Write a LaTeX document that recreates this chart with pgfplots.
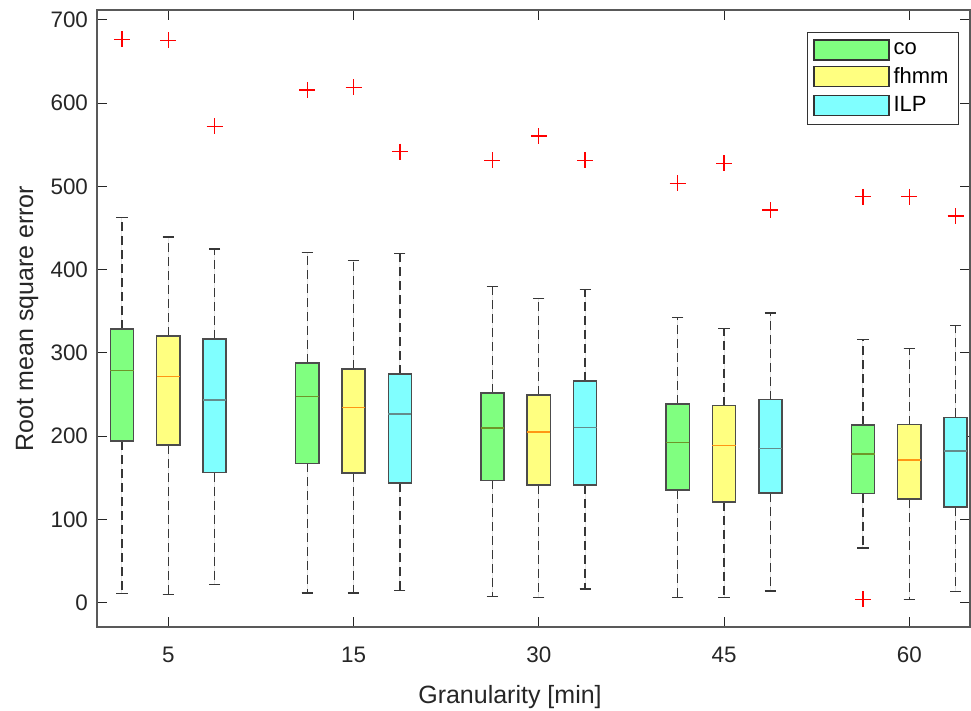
\documentclass[border=0pt]{standalone}
\usepackage{fontspec}
\setmainfont{Liberation Sans}
\usepackage{pgfplots}
\pgfplotsset{compat=1.18}
\usepgfplotslibrary{statistics}
\definecolor{cofill}{RGB}{128,255,128}
\definecolor{fhfill}{RGB}{255,255,128}
\definecolor{ilfill}{RGB}{128,255,255}
\definecolor{comed}{RGB}{110,150,40}
\definecolor{fhmed}{RGB}{255,150,20}
\definecolor{ilmed}{RGB}{100,140,140}
\definecolor{axgray}{RGB}{38,38,38}
\definecolor{wgray}{RGB}{55,55,55}
\pgfplotsset{
  boxplot/draw/lower whisker/.code={%
    \draw[color=wgray, line width=0.65pt, dash pattern=on 4.5pt off 2.5pt]
      (boxplot cs:\pgfplotsboxplotvalue{lower quartile}) -- (boxplot cs:\pgfplotsboxplotvalue{lower whisker});
    \draw[color=wgray, line width=0.65pt, solid]
      (boxplot whisker cs:\pgfplotsboxplotvalue{lower whisker},0) -- (boxplot whisker cs:\pgfplotsboxplotvalue{lower whisker},1);
  },
  boxplot/draw/upper whisker/.code={%
    \draw[color=wgray, line width=0.65pt, dash pattern=on 4.5pt off 2.5pt]
      (boxplot cs:\pgfplotsboxplotvalue{upper quartile}) -- (boxplot cs:\pgfplotsboxplotvalue{upper whisker});
    \draw[color=wgray, line width=0.65pt, solid]
      (boxplot whisker cs:\pgfplotsboxplotvalue{upper whisker},0) -- (boxplot whisker cs:\pgfplotsboxplotvalue{upper whisker},1);
  },
  mybox/.style n args={2}{
    forget plot, solid, line width=0.75pt, draw=black!70, fill=#1, mark=none,
    boxplot/box extend=0.125, boxplot/whisker extend=0.06,
    boxplot/every median/.style={draw=#2, line width=0.75pt},
  },
  co/.style={mybox={cofill}{comed}},
  fh/.style={mybox={fhfill}{fhmed}},
  il/.style={mybox={ilfill}{ilmed}},
  outl/.style={forget plot, only marks, color=red, mark=+, mark size=4pt,
    mark options={color=red, solid, line width=0.65pt}},
}
\begin{document}
\begin{tikzpicture}
\path[use as bounding box] (0,0) rectangle (485.5pt,355.5pt);
\begin{axis}[
  at={(48.5pt,42pt)}, anchor=south west,
  scale only axis, width=436.5pt, height=308.5pt,
  xmin=0.6151, xmax=5.3277, ymin=-29.3, ymax=712,
  xtick={1,2,3,4,5}, xticklabels={5,15,30,45,60},
  ytick={0,100,...,700},
  tick align=inside, tick pos=both, major tick length=5pt,
  tick style={axgray, line width=0.5pt},
  axis line style={black!65, line width=0.6pt},
  ticklabel style={font=\fontsize{11.2}{13}\selectfont, text=axgray},
  yticklabel style={xshift=-1pt},
  xticklabel style={yshift=-6.3pt},
  /pgf/number format/assume math mode=true,
  xlabel={Granularity [min]}, ylabel={Root mean square error},
  label style={font=\fontsize{12.5}{15}\selectfont, text=axgray},
  xlabel style={at={(axis description cs:0.4731,-0.1130)}, anchor=center},
  ylabel style={at={(axis description cs:-0.0800,0.5)}, anchor=center},
  boxplot/draw direction=y,
  legend image code/.code={\draw[#1] (0pt,-5pt) rectangle (37.5pt,5pt);},
  legend style={at={(1,1)}, anchor=north east, xshift=-5.5pt, yshift=-11pt,
    draw=black!80, line width=0.5pt, font=\fontsize{11}{13}\selectfont,
    row sep=1pt, inner sep=3pt, cells={anchor=west}},
]
\addlegendimage{fill=cofill, draw=black!80, line width=0.6pt}
\addlegendentry{co}
\addlegendimage{fill=fhfill, draw=black!80, line width=0.6pt}
\addlegendentry{fhmm}
\addlegendimage{fill=ilfill, draw=black!80, line width=0.6pt}
\addlegendentry{ILP}
% 5 min
\addplot[co, boxplot prepared={draw position=0.75, lower whisker=10.8, lower quartile=193.9, median=278.9, upper quartile=328.9, upper whisker=462.3}] coordinates {};
\addplot[fh, boxplot prepared={draw position=1.00, lower whisker=10.0, lower quartile=189.1, median=271.7, upper quartile=320.5, upper whisker=439.1}] coordinates {};
\addplot[il, boxplot prepared={draw position=1.25, lower whisker=22.0, lower quartile=156.3, median=243.2, upper quartile=316.9, upper whisker=424.7}] coordinates {};
% 15 min
\addplot[co, boxplot prepared={draw position=1.75, lower whisker=11.6, lower quartile=167.4, median=247.6, upper quartile=287.7, upper whisker=420.3}] coordinates {};
\addplot[fh, boxplot prepared={draw position=2.00, lower whisker=11.6, lower quartile=155.8, median=234.4, upper quartile=280.8, upper whisker=411.1}] coordinates {};
\addplot[il, boxplot prepared={draw position=2.25, lower whisker=14.8, lower quartile=143.8, median=226.7, upper quartile=274.8, upper whisker=419.5}] coordinates {};
% 30 min
\addplot[co, boxplot prepared={draw position=2.75, lower whisker=7.6, lower quartile=147.0, median=209.5, upper quartile=252.0, upper whisker=379.4}] coordinates {};
\addplot[fh, boxplot prepared={draw position=3.00, lower whisker=6.0, lower quartile=141.0, median=204.7, upper quartile=249.2, upper whisker=365.4}] coordinates {};
\addplot[il, boxplot prepared={draw position=3.25, lower whisker=16.4, lower quartile=141.4, median=210.4, upper quartile=266.4, upper whisker=376.2}] coordinates {};
% 45 min
\addplot[co, boxplot prepared={draw position=3.75, lower whisker=6.0, lower quartile=135.0, median=192.3, upper quartile=238.7, upper whisker=342.6}] coordinates {};
\addplot[fh, boxplot prepared={draw position=4.00, lower whisker=6.0, lower quartile=120.9, median=188.7, upper quartile=236.8, upper whisker=329.7}] coordinates {};
\addplot[il, boxplot prepared={draw position=4.25, lower whisker=14.0, lower quartile=131.4, median=185.1, upper quartile=244.0, upper whisker=348.1}] coordinates {};
% 60 min
\addplot[co, boxplot prepared={draw position=4.75, lower whisker=65.6, lower quartile=131.0, median=178.6, upper quartile=213.5, upper whisker=316.1}] coordinates {};
\addplot[fh, boxplot prepared={draw position=5.00, lower whisker=4.0, lower quartile=124.2, median=171.4, upper quartile=213.9, upper whisker=305.3}] coordinates {};
\addplot[il, boxplot prepared={draw position=5.25, lower whisker=13.2, lower quartile=114.6, median=181.9, upper quartile=222.4, upper whisker=333.0}] coordinates {};
% outliers
\addplot[outl] coordinates {
  (0.75,676.8) (1.00,675.5) (1.25,572.2)
  (1.75,615.8) (2.00,619.1) (2.25,541.7)
  (2.75,531.3) (3.00,560.5) (3.25,531.3)
  (3.75,503.7) (4.00,527.7) (4.25,471.6)
  (4.75,487.6) (4.75,4.0) (5.00,487.6) (5.25,464.4)
};
\end{axis}
\end{tikzpicture}
\end{document}
